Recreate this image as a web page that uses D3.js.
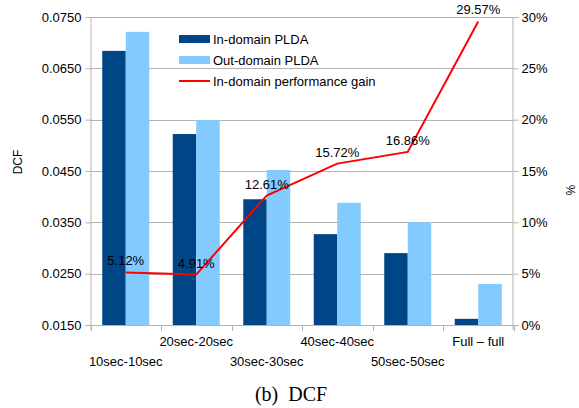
<!DOCTYPE html>
<html><head><meta charset="utf-8">
<script src="https://cdn.jsdelivr.net/npm/d3@7"></script>
<style>body{margin:0;background:#fff}svg{display:block}</style>
</head><body><svg id="c" width="579" height="408" font-family="Liberation Sans, Arial, sans-serif"></svg>
<script>
const categories = ["10sec-10sec","20sec-20sec","30sec-30sec","40sec-40sec","50sec-50sec","Full \u2013 full"];
const inDomain = [0.0684,0.0522,0.0395,0.0327,0.0290,0.0162];
const outDomain = [0.0721,0.0549,0.0452,0.0388,0.0350,0.0230];
const gain = [5.12,4.91,12.61,15.72,16.86,29.57];
const leftTicks = [0.015,0.025,0.035,0.045,0.055,0.065,0.075];
const rightTicks = [0,5,10,15,20,25,30];
const seriesNames = ["In-domain PLDA","Out-domain PLDA","In-domain performance gain"];

const svg = d3.select("#c");
const L = 90.5, R = 513.5, T = 17, B = 325;
const grey = "#b3b3b3";
const x = d3.scaleBand().domain(categories).range([L, R]).paddingInner(0).paddingOuter(0);
const xi = d3.scaleBand().domain([0,1]).range([0, x.bandwidth()]).paddingOuter(0.5).paddingInner(0);
const y = d3.scaleLinear().domain([0.015,0.075]).range([B, T]);
const y2 = d3.scaleLinear().domain([0,30]).range([B, T]);

// gridlines
svg.append("g").selectAll("line").data(leftTicks).join("line")
  .attr("x1", L).attr("x2", R).attr("y1", d=>Math.round(y(d))+0.5).attr("y2", d=>Math.round(y(d))+0.5)
  .attr("stroke", grey).attr("stroke-width",1);

// bars
const colors = ["#004586","#83caff"];
[inDomain, outDomain].forEach((arr, s) => {
  svg.append("g").selectAll("rect").data(arr).join("rect")
    .attr("x", (d,i)=>x(categories[i]) + xi(s))
    .attr("width", xi.bandwidth())
    .attr("y", d=>y(d)).attr("height", d=>B - y(d))
    .attr("fill", colors[s]);
});

// axes
const la = svg.append("g").attr("transform",`translate(${L},0)`)
  .call(d3.axisLeft(y).tickValues(leftTicks).tickFormat(d3.format(".4f")).tickSize(5).tickPadding(4));
const ra = svg.append("g").attr("transform",`translate(${R},0)`)
  .call(d3.axisRight(y2).tickValues(rightTicks).tickFormat(d=>d+"%").tickSize(5).tickPadding(3));
const xa = svg.append("g").attr("transform",`translate(0,${B+0.5})`)
  .call(d3.axisBottom(x).tickSize(0).tickFormat(""));
[la, ra, xa].forEach(g => {
  g.selectAll("path").attr("stroke", grey);
  g.selectAll("line").attr("stroke", grey);
  g.selectAll("text").attr("font-size", 13).attr("fill","#000").attr("font-family","Liberation Sans, Arial, sans-serif");
});
la.select("path").attr("d", `M0.5,${T}V${B+5}`);
ra.select("path").attr("d", `M-0.5,${T}V${B+5}`);
xa.select("path").attr("d", `M${L-5},0H${R+5}`);
// x boundary ticks
const bounds = categories.map(c=>x(c)).concat([R]);
svg.append("g").selectAll("line").data(bounds).join("line")
  .attr("x1", d=>Math.round(d)+0.5).attr("x2", d=>Math.round(d)+0.5)
  .attr("y1", B).attr("y2", B+6).attr("stroke", grey);

// x labels staggered
svg.append("g").selectAll("text").data(categories).join("text")
  .attr("x", d=>x(d)+x.bandwidth()/2)
  .attr("y", (d,i)=> i%2===0 ? 366 : 346)
  .attr("text-anchor","middle").attr("font-size",13).text(d=>d);

// line
const cx = i => x(categories[i]) + x.bandwidth()/2;
svg.append("path").datum(gain)
  .attr("d", d3.line().x((d,i)=>cx(i)).y(d=>y2(d)))
  .attr("fill","none").attr("stroke","#ff0000").attr("stroke-width",2);
svg.append("g").selectAll("text").data(gain).join("text")
  .attr("x",(d,i)=>cx(i)).attr("y", d=>y2(d)-7)
  .attr("text-anchor","middle").attr("font-size",13).text(d=>d.toFixed(2)+"%");

// axis titles
svg.append("text").attr("transform","translate(22,162) rotate(-90)").attr("text-anchor","middle").attr("font-size",12).text("DCF");
svg.append("text").attr("transform","translate(566,190) rotate(90)").attr("text-anchor","middle").attr("font-size",12).text("%");

// legend
const lg = svg.append("g");
const lx = 179, ly = [39, 60, 81];
lg.append("rect").attr("x",lx).attr("y",ly[0]-4).attr("width",31).attr("height",8).attr("fill",colors[0]);
lg.append("rect").attr("x",lx).attr("y",ly[1]-4).attr("width",31).attr("height",8).attr("fill",colors[1]);
lg.append("line").attr("x1",lx).attr("x2",lx+31).attr("y1",ly[2]).attr("y2",ly[2]).attr("stroke","#ff0000").attr("stroke-width",2);
lg.selectAll("text").data(seriesNames).join("text")
  .attr("x", lx+34).attr("y",(d,i)=>ly[i]+5).attr("font-size",13).text(d=>d);

// caption
svg.append("text").attr("x",291).attr("y",401).attr("text-anchor","middle")
  .attr("font-family","Liberation Serif, Times New Roman, serif").attr("font-size",20)
  .style("white-space","pre").text("(b)  DCF");
</script></body></html>
